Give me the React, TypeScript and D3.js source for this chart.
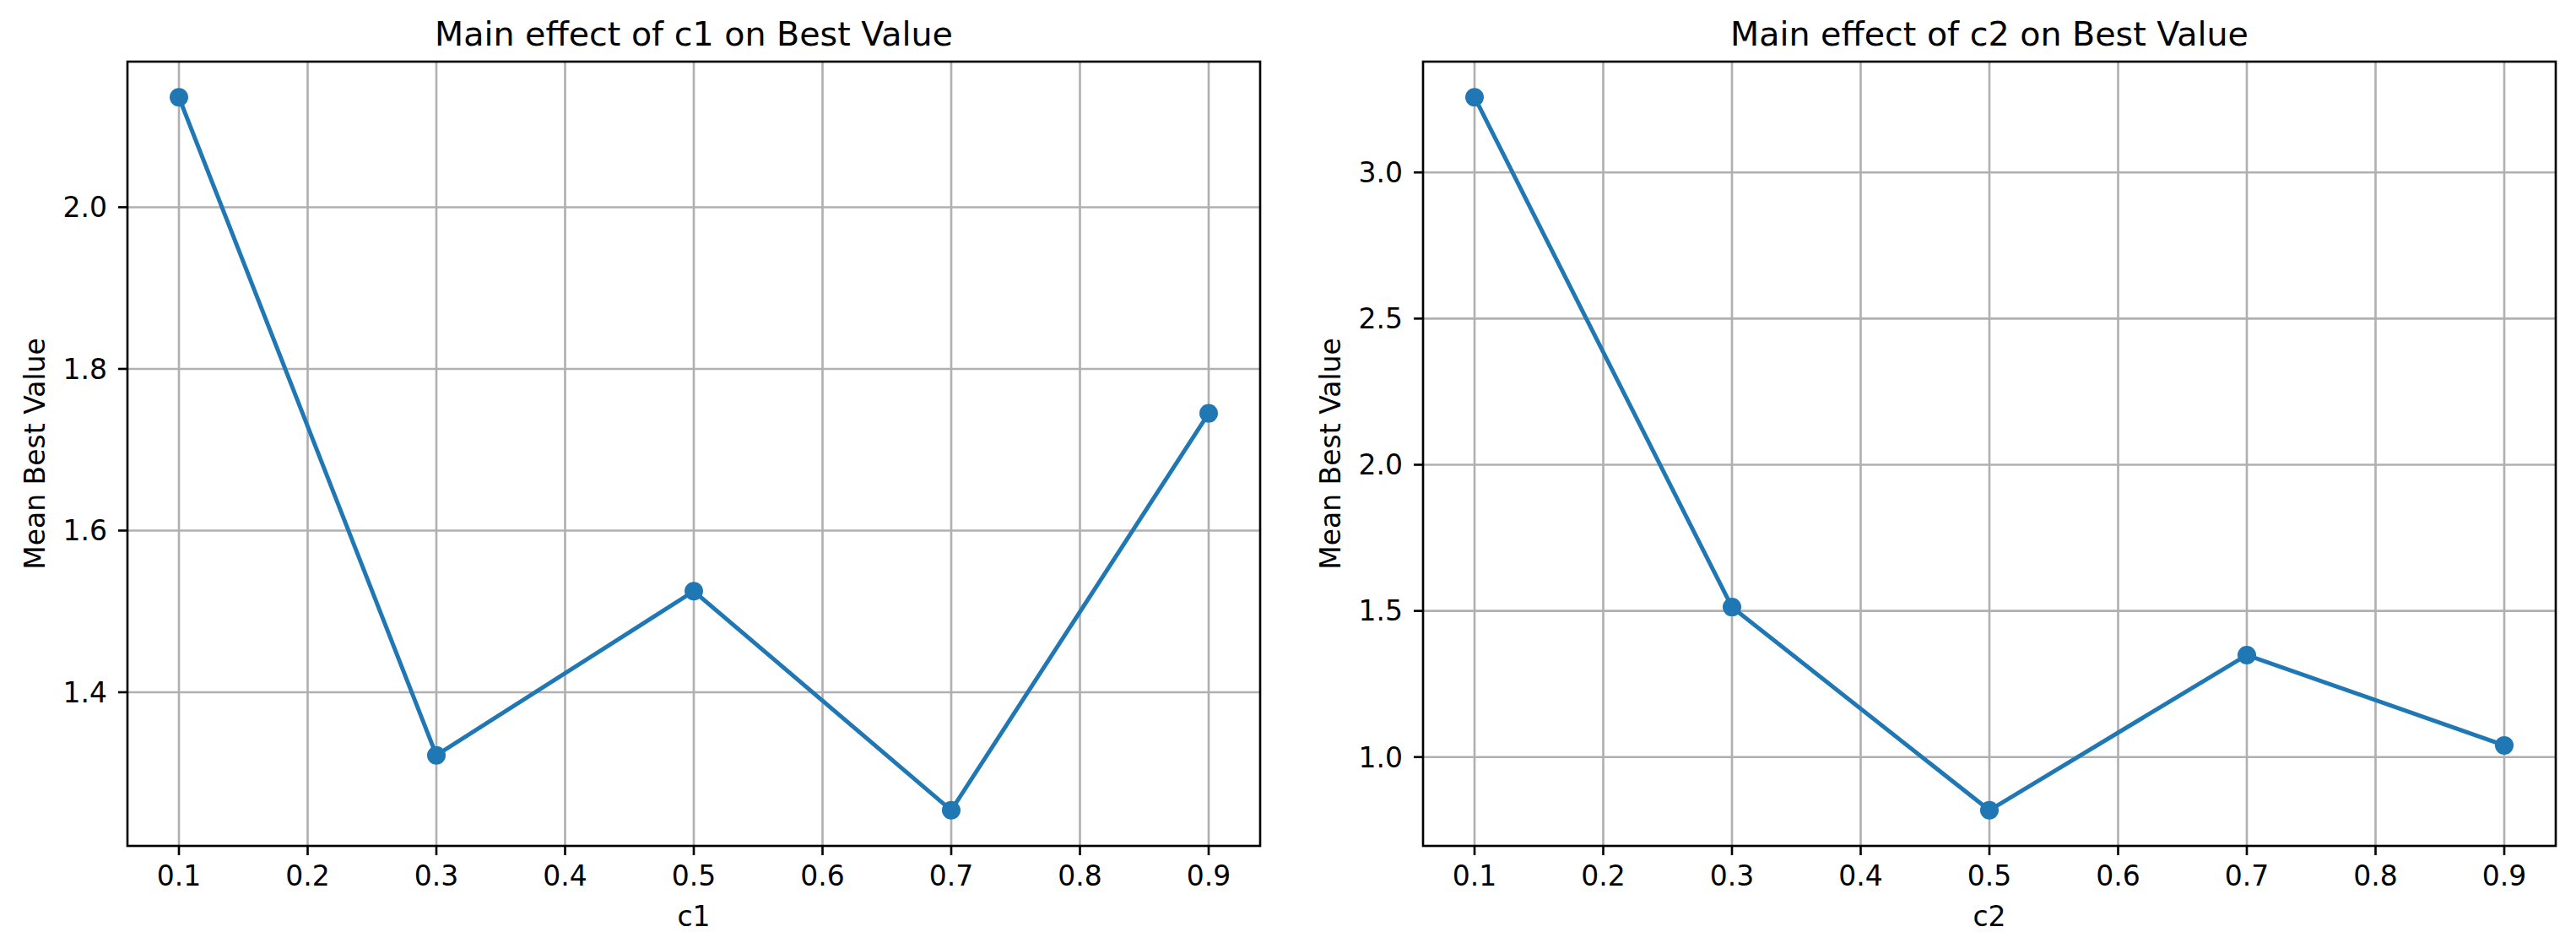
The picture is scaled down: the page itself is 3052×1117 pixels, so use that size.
import React from 'react';
import * as d3 from 'd3';

// 数据：参数水平与对应的平均最优值
const levels = [0.1, 0.3, 0.5, 0.7, 0.9];
const c1Means = [2.136, 1.322, 1.525, 1.254, 1.745];
const c2Means = [3.257, 1.513, 0.818, 1.349, 1.04];
const xTicks = [0.1, 0.2, 0.3, 0.4, 0.5, 0.6, 0.7, 0.8, 0.9];
const c1YTicks = [1.4, 1.6, 1.8, 2.0];
const c2YTicks = [1.0, 1.5, 2.0, 2.5, 3.0];

const width = 3052;
const height = 1117;
const pt = 3.3; // 1pt 对应的像素
const font = 'DejaVu Sans, sans-serif';
const blue = '#1f77b4';
const tickFont = 33;
const titleFont = 39.6;

interface PanelProps {
  name: string;
  values: number[];
  yTicks: number[];
  left: number;
}

const Panel: React.FC<PanelProps> = ({ name, values, yTicks, left }) => {
  const top = 73;
  const bottom = 1002;
  const right = left + 1342;

  // 横轴：留 5% 边距
  const xPad = (d3.max(levels)! - d3.min(levels)!) * 0.05;
  const x = d3.scaleLinear()
    .domain([d3.min(levels)! - xPad, d3.max(levels)! + xPad])
    .range([left, right]);

  // 纵轴
  const yMin = d3.min(values)!;
  const yMax = d3.max(values)!;
  const yPad = (yMax - yMin) * 0.05;
  const y = d3.scaleLinear()
    .domain([yMin - yPad, yMax + yPad])
    .range([bottom, top]);

  const line = d3.line<number>()
    .x((_, i) => x(levels[i]))
    .y((d) => y(d));

  const tickLen = 11;
  const tickPad = 11;
  const midY = (top + bottom) / 2;
  const midX = (left + right) / 2;

  return (
    <g fontFamily={font}>
      {/* 网格 */}
      {xTicks.map((t) => (
        <line key={'gx' + t} x1={x(t)} x2={x(t)} y1={top} y2={bottom} stroke="#b0b0b0" strokeWidth={0.8 * pt} />
      ))}
      {yTicks.map((t) => (
        <line key={'gy' + t} x1={left} x2={right} y1={y(t)} y2={y(t)} stroke="#b0b0b0" strokeWidth={0.8 * pt} />
      ))}

      {/* 折线与点 */}
      <path d={line(values)!} fill="none" stroke={blue} strokeWidth={1.5 * pt} />
      {values.map((v, i) => (
        <circle key={i} cx={x(levels[i])} cy={y(v)} r={11} fill={blue} />
      ))}

      {/* 边框 */}
      <rect x={left} y={top} width={right - left} height={bottom - top} fill="none" stroke="#000" strokeWidth={0.8 * pt} />

      {/* x 刻度 */}
      {xTicks.map((t) => (
        <g key={'tx' + t}>
          <line x1={x(t)} x2={x(t)} y1={bottom} y2={bottom + tickLen} stroke="#000" strokeWidth={0.8 * pt} />
          <text x={x(t)} y={1049} fontSize={tickFont} textAnchor="middle">{t.toFixed(1)}</text>
        </g>
      ))}

      {/* y 刻度 */}
      {yTicks.map((t) => (
        <g key={'ty' + t}>
          <line x1={left - tickLen} x2={left} y1={y(t)} y2={y(t)} stroke="#000" strokeWidth={0.8 * pt} />
          <text x={left - tickLen - tickPad - 2} y={y(t)} dy="0.36em" fontSize={tickFont} textAnchor="end">{t.toFixed(1)}</text>
        </g>
      ))}

      {/* 标题与轴标签 */}
      <text x={midX} y={top - 19.5} fontSize={titleFont} textAnchor="middle">Main effect of {name} on Best Value</text>
      <text x={midX} y={1097} fontSize={tickFont} textAnchor="middle">{name}</text>
      <text transform={`translate(${left - 98},${midY}) rotate(-90)`} fontSize={tickFont} textAnchor="middle">Mean Best Value</text>
    </g>
  );
};

const App: React.FC = () => {
  return (
    <svg
      width={width}
      height={height}
      style={{ position: 'absolute', left: 0, top: 0, background: '#fff' }}
    >
      <rect width={width} height={height} fill="#fff" />
      <Panel name="c1" values={c1Means} yTicks={c1YTicks} left={151} />
      <Panel name="c2" values={c2Means} yTicks={c2YTicks} left={1686} />
    </svg>
  );
};

export default App;
